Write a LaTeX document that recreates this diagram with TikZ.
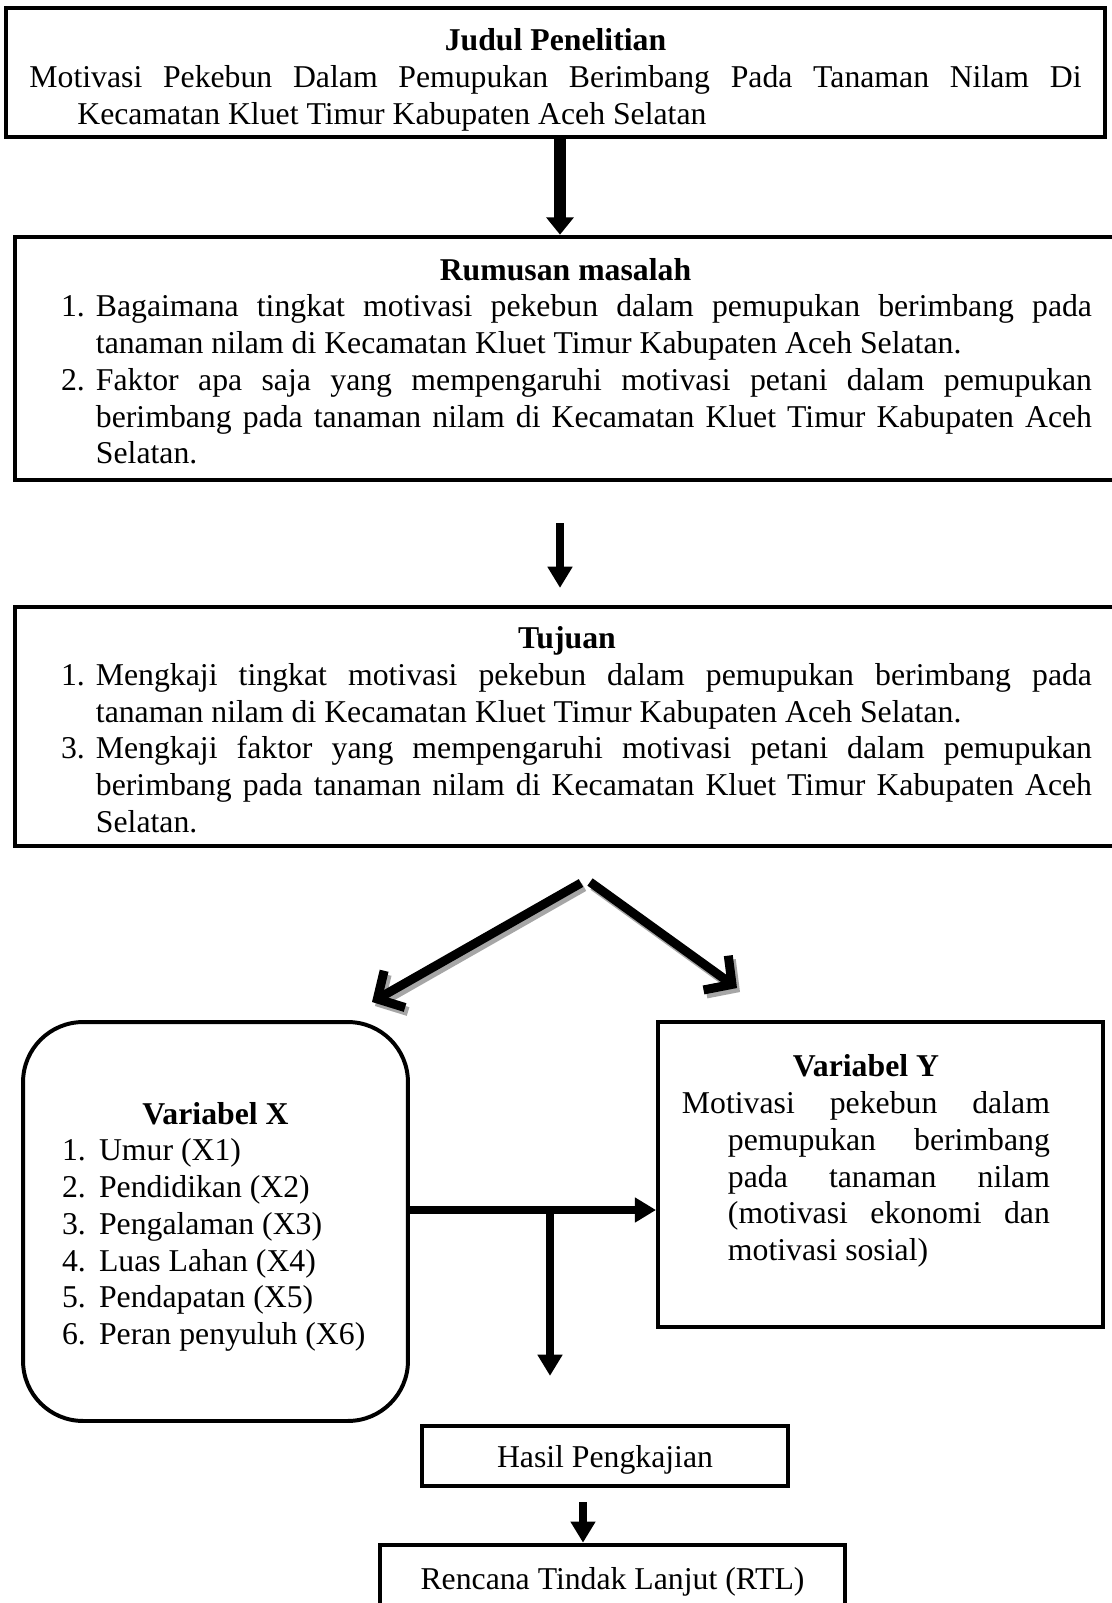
\documentclass[tikz,border=0pt]{standalone}
\usepackage{fontspec}
\setmainfont{Liberation Serif}
\usepackage{tikz}
\usetikzlibrary{arrows.meta}
\tikzstyle{kotak} = [
    rectangle,
    draw=black,
    line width=1.7pt,
    inner sep=0pt,
    font=\fontsize{12}{13.9}\selectfont
]
\tikzstyle{kotakbulat} = [
    kotak,
    rounded corners=22.7pt,
    line width=1.5pt
]
\tikzstyle{arrow} = [
    line width=3.2pt,
    -{Triangle[length=8pt,width=9pt]}
]
\tikzstyle{arrowtebal} = [
    arrow,
    line width=4.5pt,
    -{Triangle[length=6.5pt,width=10pt]}
]
\tikzstyle{arrowmiring} = [
    line width=3.4pt,
    -{Straight Barb[length=7.5pt,width=16pt]}
]
\tikzstyle{bayangan} = [arrowmiring, draw=black!35]
\newcommand{\butir}[3]{\par\hangindent=#1\hangafter=1\noindent\makebox[#1][l]{#2}#3}
\tolerance=10000
\hyphenpenalty=10000

\begin{document}
\begin{tikzpicture}[x=0.378pt,y=-0.378pt]
\useasboundingbox (0,0) rectangle (1112,1603);
\clip (0,0) rectangle (1112,1603);

\node (judul) [kotak, minimum width=415.4pt, minimum height=48.8pt] at (555.5,72.5)
{\parbox{397.7pt}{{\centering\textbf{Judul Penelitian}\par}
\hangindent=18.1pt\hangafter=1\noindent Motivasi Pekebun Dalam Pemupukan Berimbang Pada Tanaman Nilam Di\linebreak Kecamatan Kluet Timur Kabupaten Aceh Selatan\par\vspace*{-5.4pt}}};
\node (rumusan) [kotak, minimum width=417.7pt, minimum height=91.9pt] at (567.5,358.5)
{\hspace*{6.8pt}\parbox{389.7pt}{{\centering\hspace*{-8.3pt}\textbf{Rumusan masalah}\par}
\butir{13.2pt}{1.}{Bagaimana tingkat motivasi pekebun dalam pemupukan berimbang pada\linebreak tanaman nilam di Kecamatan Kluet Timur Kabupaten Aceh Selatan.}
\butir{13.2pt}{2.}{Faktor apa saja yang mempengaruhi motivasi petani dalam pemupukan\linebreak berimbang pada tanaman nilam di Kecamatan Kluet Timur Kabupaten Aceh\linebreak Selatan.}\par\vspace*{-2pt}}};
\node (tujuan) [kotak, minimum width=417.7pt, minimum height=90.3pt] at (567.5,726.5)
{\hspace*{6.8pt}\parbox{389.7pt}{{\centering\hspace*{-7.2pt}\textbf{Tujuan}\par}
\butir{13.2pt}{1.}{Mengkaji tingkat motivasi pekebun dalam pemupukan berimbang pada\linebreak tanaman nilam di Kecamatan Kluet Timur Kabupaten Aceh Selatan.}
\butir{13.2pt}{3.}{Mengkaji faktor yang mempengaruhi motivasi petani dalam pemupukan\linebreak berimbang pada tanaman nilam di Kecamatan Kluet Timur Kabupaten Aceh\linebreak Selatan.}\par\vspace*{-2.4pt}}};
\node (varx) [kotakbulat, minimum width=145.5pt, minimum height=150.8pt] at (215.5,1221.5)
{\parbox{116pt}{{\centering\textbf{Variabel X}\par}
\butir{14pt}{1.}{Umur (X1)}
\butir{14pt}{2.}{Pendidikan (X2)}
\butir{14pt}{3.}{Pengalaman (X3)}
\butir{14pt}{4.}{Luas Lahan (X4)}
\butir{14pt}{5.}{Pendapatan (X5)}
\butir{14pt}{6.}{Peran penyuluh (X6)}\par\vspace*{-4pt}}};
\node (vary) [kotak, line width=1.5pt, minimum width=168.2pt, minimum height=115.3pt] at (880.5,1174.5)
{\parbox{139.1pt}{{\centering\textbf{Variabel Y}\par}
\hangindent=17.4pt\hangafter=1\noindent Motivasi pekebun dalam\linebreak pemupukan berimbang\linebreak pada tanaman nilam\linebreak (motivasi ekonomi dan\linebreak motivasi sosial)\par\vspace*{10.2pt}}\hspace*{11pt}};
\node (hasil) [kotak, minimum width=138.3pt, minimum height=22.7pt, text height=9pt, text depth=0.6pt] at (605,1456) {Hasil Pengkajian};
\node (rtl) [kotak, minimum width=175.8pt, minimum height=25pt, text height=9pt, text depth=0.6pt] at (612.5,1578) {Rencana Tindak Lanjut (RTL)};

\coordinate (sumbu) at (560,0);
\coordinate (sumbukecil) at (583,0);
\coordinate (cabang) at (550,1210);
\coordinate (pangkalkiri) at (581,883);
\coordinate (ujungkiri) at (372,1002);
\coordinate (pangkalkanan) at (590,882);
\coordinate (ujungkanan) at (737,988);

\draw [arrowtebal] (judul.south -| sumbu) -- (rumusan.north -| sumbu);
\draw [arrow, shorten <=15.5pt, shorten >=6.4pt] (rumusan.south -| sumbu) -- (tujuan.north -| sumbu);
\draw [bayangan] ([shift={(3,4)}]pangkalkiri) -- ([shift={(3,4)}]ujungkiri);
\draw [bayangan] ([shift={(3,4)}]pangkalkanan) -- ([shift={(3,4)}]ujungkanan);
\draw [arrowmiring] (pangkalkiri) -- (ujungkiri);
\draw [arrowmiring] (pangkalkanan) -- (ujungkanan);
\draw [arrow, line width=2.7pt] (varx.east |- cabang) -- (vary.west |- cabang);
\draw [arrow, line width=3pt, shorten >=18.1pt] (cabang) -- (cabang |- hasil.north);
\draw [arrow, shorten <=5.3pt] (hasil.south -| sumbukecil) -- (rtl.north -| sumbukecil);

\end{tikzpicture}
\end{document}
